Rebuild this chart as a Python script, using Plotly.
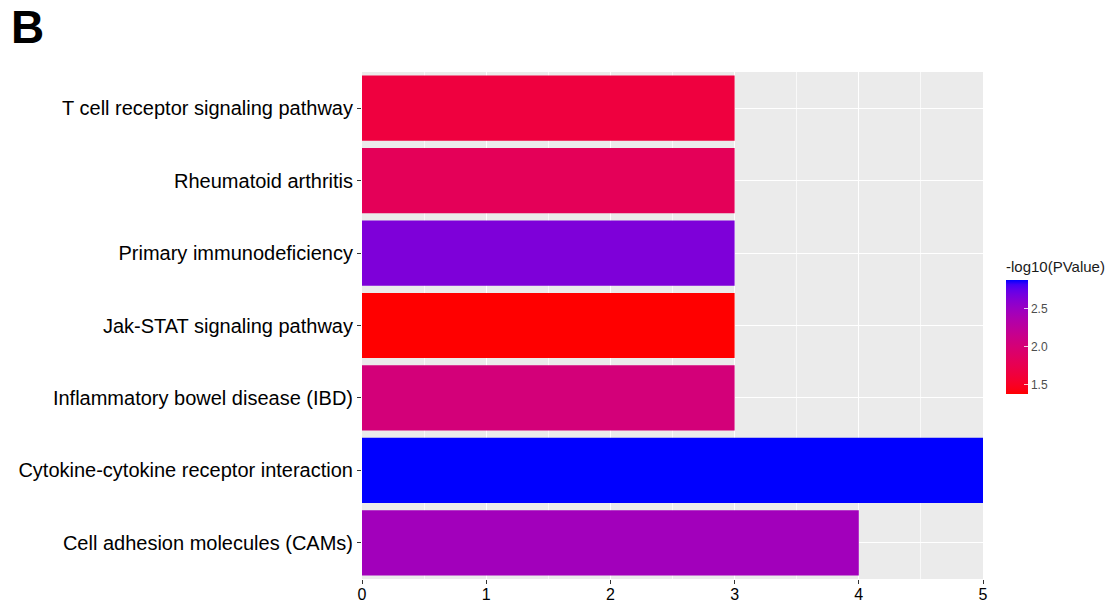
import plotly.graph_objects as go

# KEGG pathway enrichment (top to bottom)
pathways = [
    "T cell receptor signaling pathway",
    "Rheumatoid arthritis",
    "Primary immunodeficiency",
    "Jak-STAT signaling pathway",
    "Inflammatory bowel disease (IBD)",
    "Cytokine-cytokine receptor interaction",
    "Cell adhesion molecules (CAMs)",
]
gene_counts = [3, 3, 3, 3, 3, 5, 4]
neg_log10_p = [1.65, 1.81, 2.64, 1.38, 2.02, 2.87, 2.45]

x_ticks = [0, 1, 2, 3, 4, 5]
cbar_ticks = [1.5, 2.0, 2.5]


# red -> blue gradient interpolated in CIELAB (like ggplot2's scale_fill_gradient)
def _srgb_to_lin(c):
    return c / 12.92 if c <= 0.04045 else ((c + 0.055) / 1.055) ** 2.4


def _lin_to_srgb(c):
    c = min(max(c, 0.0), 1.0)
    return 12.92 * c if c <= 0.0031308 else 1.055 * c ** (1 / 2.4) - 0.055


WHITE = (0.95047, 1.0, 1.08883)


def rgb_to_lab(rgb):
    r, g, b = (_srgb_to_lin(v / 255) for v in rgb)
    x = 0.4124 * r + 0.3576 * g + 0.1805 * b
    y = 0.2126 * r + 0.7152 * g + 0.0722 * b
    z = 0.0193 * r + 0.1192 * g + 0.9505 * b
    def f(t):
        return t ** (1 / 3) if t > 0.008856 else 7.787 * t + 16 / 116
    fx, fy, fz = f(x / WHITE[0]), f(y / WHITE[1]), f(z / WHITE[2])
    return 116 * fy - 16, 500 * (fx - fy), 200 * (fy - fz)


def lab_to_rgb(lab):
    L, a, bb = lab
    fy = (L + 16) / 116
    fx = fy + a / 500
    fz = fy - bb / 200
    def finv(t):
        return t ** 3 if t ** 3 > 0.008856 else (t - 16 / 116) / 7.787
    x, y, z = finv(fx) * WHITE[0], finv(fy) * WHITE[1], finv(fz) * WHITE[2]
    r = 3.2406 * x - 1.5372 * y - 0.4986 * z
    g = -0.9689 * x + 1.8758 * y + 0.0415 * z
    b = 0.0557 * x - 0.2040 * y + 1.0570 * z
    return tuple(int(round(_lin_to_srgb(v) * 255)) for v in (r, g, b))


low, high = rgb_to_lab((255, 0, 0)), rgb_to_lab((0, 0, 255))
n_stops = 24
colorscale = []
for i in range(n_stops + 1):
    t = i / n_stops
    lab = tuple(l + (h - l) * t for l, h in zip(low, high))
    r, g, b = lab_to_rgb(lab)
    colorscale.append([t, f"rgb({r},{g},{b})"])

FONT = "Arial, Liberation Sans, sans-serif"
L_M, R_M, T_M, B_M = 362, 123, 72, 24
W, H = 1106, 603
plot_w, plot_h = W - L_M - R_M, H - T_M - B_M


def px_x(px):
    return (px - L_M) / plot_w


def px_y(py):
    return 1 - (py - T_M) / plot_h


# colour bar block (title + ramp) spans these pixel rows
CB_TOP, CB_BOTTOM = 258, 394

fig = go.Figure(
    go.Bar(
        x=gene_counts,
        y=pathways,
        orientation="h",
        marker=dict(
            color=neg_log10_p,
            colorscale=colorscale,
            cmin=min(neg_log10_p),
            cmax=max(neg_log10_p),
            line=dict(width=0),
            colorbar=dict(
                title=dict(text="-log10(PValue)", side="top",
                           font=dict(family=FONT, size=15, color="#1a1a1a")),
                tickvals=cbar_ticks,
                ticktext=[f"{v:.1f}" for v in cbar_ticks],
                tickfont=dict(family=FONT, size=12, color="#4d4d4d"),
                ticks="inside",
                tickcolor="rgba(255,255,255,0.8)",
                ticklen=4,
                outlinewidth=0,
                thickness=22,
                thicknessmode="pixels",
                len=CB_BOTTOM - CB_TOP,
                lenmode="pixels",
                x=px_x(1006),
                xanchor="left",
                xpad=0,
                y=px_y((CB_TOP + CB_BOTTOM) / 2),
                yanchor="middle",
                ypad=0,
            ),
        ),
        showlegend=False,
    )
)

fig.update_layout(
    width=W,
    height=H,
    margin=dict(l=L_M, r=R_M, t=T_M, b=B_M, pad=0, autoexpand=False),
    paper_bgcolor="white",
    plot_bgcolor="#EBEBEB",
    bargap=0.1,
    font=dict(family=FONT, color="black"),
    xaxis=dict(
        range=[0, 5],
        automargin=False,
        tickvals=x_ticks,
        ticks="outside",
        ticklen=4,
        tickcolor="#333333",
        tickwidth=1,
        ticklabelstandoff=-3,
        tickfont=dict(family=FONT, size=16, color="black"),
        showgrid=True,
        gridcolor="white",
        gridwidth=1.4,
        minor=dict(dtick=0.5, showgrid=True, gridcolor="rgba(255,255,255,0.7)", gridwidth=0.6),
        zeroline=False,
        showline=False,
    ),
    yaxis=dict(
        autorange="reversed",
        automargin=False,
        ticks="outside",
        ticklen=4,
        tickcolor="#333333",
        tickwidth=1,
        tickfont=dict(family=FONT, size=20, color="black"),
        showgrid=True,
        gridcolor="white",
        gridwidth=1.4,
        zeroline=False,
        showline=False,
    ),
    annotations=[
        dict(
            text="<b>B</b>",
            xref="paper", yref="paper",
            x=px_x(9), y=px_y(-1),
            xanchor="left", yanchor="top",
            showarrow=False,
            font=dict(family=FONT, size=46, color="black"),
        )
    ],
)

fig.write_html("out.html")
